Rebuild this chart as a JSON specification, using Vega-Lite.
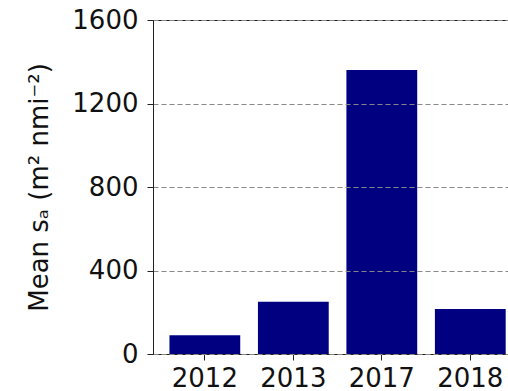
{
  "$schema": "https://vega.github.io/schema/vega-lite/v6.json",
  "autosize": {"type": "none"},
  "padding": {"left": 153, "top": 20, "right": 0, "bottom": 37},
  "width": 355,
  "height": 334,
  "background": "white",
  "config": {
    "font": "DejaVu Sans",
    "view": {"stroke": "#222", "strokeWidth": 1}
  },
  "data": {
    "values": [
      {"year": "2012", "mean_sa": 90},
      {"year": "2013", "mean_sa": 250},
      {"year": "2017", "mean_sa": 1360},
      {"year": "2018", "mean_sa": 215}
    ]
  },
  "mark": {"type": "bar", "color": "#000080"},
  "encoding": {
    "x": {
      "field": "year",
      "type": "ordinal",
      "sort": null,
      "scale": {"paddingInner": 0.2, "paddingOuter": 0.106, "align": 0.877},
      "axis": {
        "title": null,
        "labelAngle": 0,
        "labelFontSize": 26,
        "labelColor": "#111",
        "labelPadding": 5,
        "tickSize": 6,
        "tickColor": "#222",
        "domainColor": "#222",
        "grid": false
      }
    },
    "y": {
      "field": "mean_sa",
      "type": "quantitative",
      "scale": {"domain": [0, 1600], "nice": false},
      "axis": {
        "values": [0, 400, 800, 1200, 1600],
        "format": "d",
        "title": "Mean sₐ (m² nmi⁻²)",
        "titleFontSize": 26,
        "titleFontWeight": "normal",
        "titleColor": "#111",
        "titleX": -114,
        "titleBaseline": "middle",
        "labelFontSize": 26,
        "labelColor": "#111",
        "labelPadding": 9,
        "tickSize": 6,
        "tickColor": "#222",
        "domainColor": "#222",
        "grid": true,
        "gridColor": "#888",
        "gridDash": [5, 3],
        "gridWidth": 1,
        "zindex": 1
      }
    }
  }
}
